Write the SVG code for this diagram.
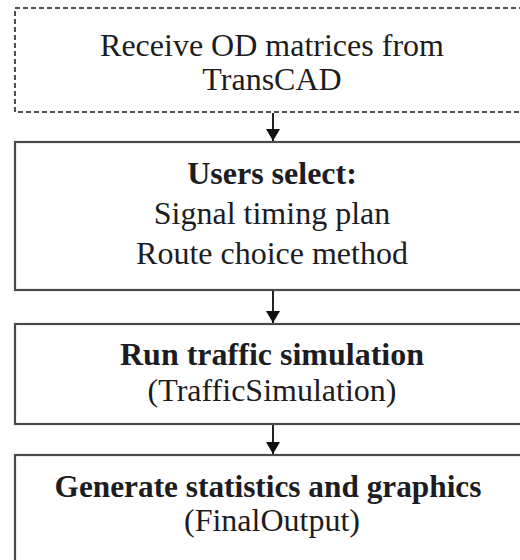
<svg xmlns="http://www.w3.org/2000/svg" width="520" height="560" viewBox="0 0 520 560">
  <style>
    .box { fill: #ffffff; stroke: #4a4a4a; stroke-width: 2.2; }
    .dash { fill: #ffffff; stroke: #505050; stroke-width: 2; stroke-dasharray: 5 3; }
    text { font-family: 'Liberation Serif', 'Times New Roman', Times, serif; font-size: 32px; fill: #1c1c22; text-anchor: middle; }
    .b { font-weight: bold; }
    .conn line { stroke: #222; stroke-width: 2; }
  </style>
  <defs>
    <marker id="head" viewBox="0 0 12 14" refX="12" refY="7" markerWidth="12" markerHeight="14" markerUnits="userSpaceOnUse" orient="auto">
      <path d="M0,0 L12,7 L0,14 Z" fill="#111"/>
    </marker>
  </defs>
  <rect width="520" height="560" fill="#ffffff"/>

  <!-- input step, drawn with a dashed frame -->
  <g id="receive-od">
    <rect class="dash" x="15" y="8" width="516" height="104"/>
    <text x="272" y="56">Receive OD matrices from</text>
    <text x="272" y="90">TransCAD</text>
  </g>

  <g id="users-select">
    <rect class="box" x="15" y="142" width="516" height="148"/>
    <text class="b" x="272" y="184">Users select:</text>
    <text x="272" y="224">Signal timing plan</text>
    <text x="272" y="264">Route choice method</text>
  </g>

  <g id="run-simulation">
    <rect class="box" x="15" y="324" width="516" height="100"/>
    <text class="b" x="272" y="365">Run traffic simulation</text>
    <text x="272" y="401">(TrafficSimulation)</text>
  </g>

  <g id="final-output">
    <rect class="box" x="15" y="455" width="516" height="120"/>
    <text class="b" x="268" y="497" style="font-size:31.3px">Generate statistics and graphics</text>
    <text x="272" y="531">(FinalOutput)</text>
  </g>

  <g class="conn">
    <line x1="273" y1="113" x2="273" y2="141" marker-end="url(#head)"/>
    <line x1="273" y1="291" x2="273" y2="323" marker-end="url(#head)"/>
    <line x1="273" y1="425" x2="273" y2="454" marker-end="url(#head)"/>
  </g>
</svg>
